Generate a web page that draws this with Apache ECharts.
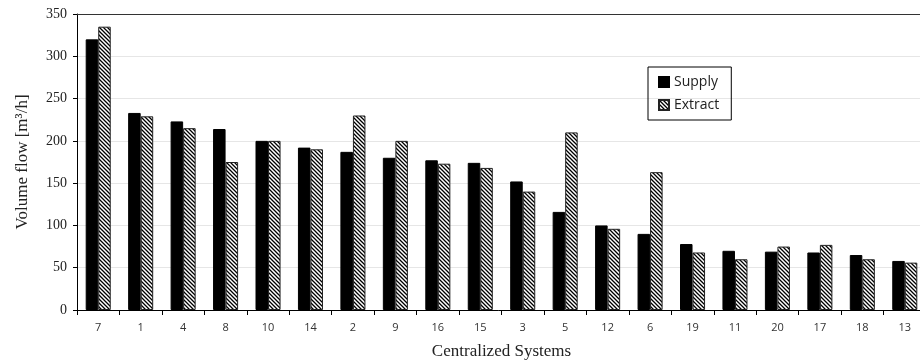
<!DOCTYPE html>
<html><head><meta charset="utf-8">
<script src="https://cdn.jsdelivr.net/npm/echarts@6/dist/echarts.min.js"></script>
<style>html,body{margin:0;padding:0;background:#fff}#c{width:920px;height:362px}</style>
</head><body><div id="c"></div>
<script>
const categories = ['7','1','4','8','10','14','2','9','16','15','3','5','12','6','19','11','20','17','18','13'];
const supply = [320,233,223,214,200,192,187,180,177,174,152,116,100,90,78,70,69,68,65,58];
const extract = [335,229,215,175,200,190,230,200,173,168,140,210,96,163,68,60,75,77,60,56];
const yTicks = [0,50,100,150,200,250,300,350];

function hatch(){
  const c = document.createElement('canvas');
  c.width = 4; c.height = 4;
  const g = c.getContext('2d');
  g.fillStyle = '#fff'; g.fillRect(0,0,4,4);
  g.strokeStyle = '#000'; g.lineWidth = 1.3;
  g.beginPath();
  g.moveTo(-1,-1); g.lineTo(5,5);
  g.moveTo(-3,1); g.lineTo(1,5);
  g.moveTo(1,-3); g.lineTo(5,1);
  g.stroke();
  return c;
}
const pat = {image: hatch(), repeat: 'repeat'};

const chart = echarts.init(document.getElementById('c'));
chart.setOption({
  animation: false,
  grid: {left: 77, right: -6, top: 14, bottom: 52, containLabel: false, outerBoundsMode: 'none'},
  legend: {
    orient: 'vertical', left: 648, top: 67,
    itemWidth: 10, itemHeight: 10, itemGap: 9,
    padding: [8, 12, 8, 10],
    borderColor: '#000', borderWidth: 1,
    textStyle: {fontFamily: 'Open Sans', fontSize: 14, color: '#222'},
    data: [{name:'Supply', icon:'rect'}, {name:'Extract', icon:'rect'}]
  },
  xAxis: {
    type: 'category', data: categories,
    name: 'Centralized Systems', nameLocation: 'middle', nameGap: 33,
    nameTextStyle: {fontFamily: 'Liberation Serif', fontSize: 17, color: '#222'},
    axisLine: {lineStyle: {color: '#000'}},
    axisTick: {show: true, length: 5, lineStyle: {color: '#000'}},
    axisLabel: {fontFamily: 'Open Sans', fontSize: 11, color: '#333', margin: 12},
    splitLine: {show: false}
  },
  yAxis: {
    type: 'value', min: yTicks[0], max: yTicks[yTicks.length-1], interval: 50,
    name: 'Volume flow [m³/h]', nameLocation: 'middle', nameGap: 46,
    nameTextStyle: {fontFamily: 'Liberation Serif', fontSize: 17, color: '#222'},
    axisLine: {show: true, lineStyle: {color: '#000'}},
    axisTick: {show: true, length: 4, lineStyle: {color: '#000'}},
    axisLabel: {fontFamily: 'Liberation Serif', fontSize: 14, color: '#222', margin: 10},
    splitLine: {show: true, lineStyle: {color: '#e6e6e6', width: 1}}
  },
  series: [
    {name: 'Supply', type: 'bar', data: supply, barGap: '0%', barCategoryGap: '41%',
     itemStyle: {color: '#000', borderColor: '#000', borderWidth: 1}},
    {name: 'Extract', type: 'bar', data: extract,
     itemStyle: {color: pat, borderColor: '#222', borderWidth: 1}},
    {type: 'line', data: [], markLine: {silent: true, symbol: 'none', label: {show: false},
      lineStyle: {color: '#333', type: 'solid', width: 1}, data: [{yAxis: 350}]}}
  ]
});
</script></body></html>
